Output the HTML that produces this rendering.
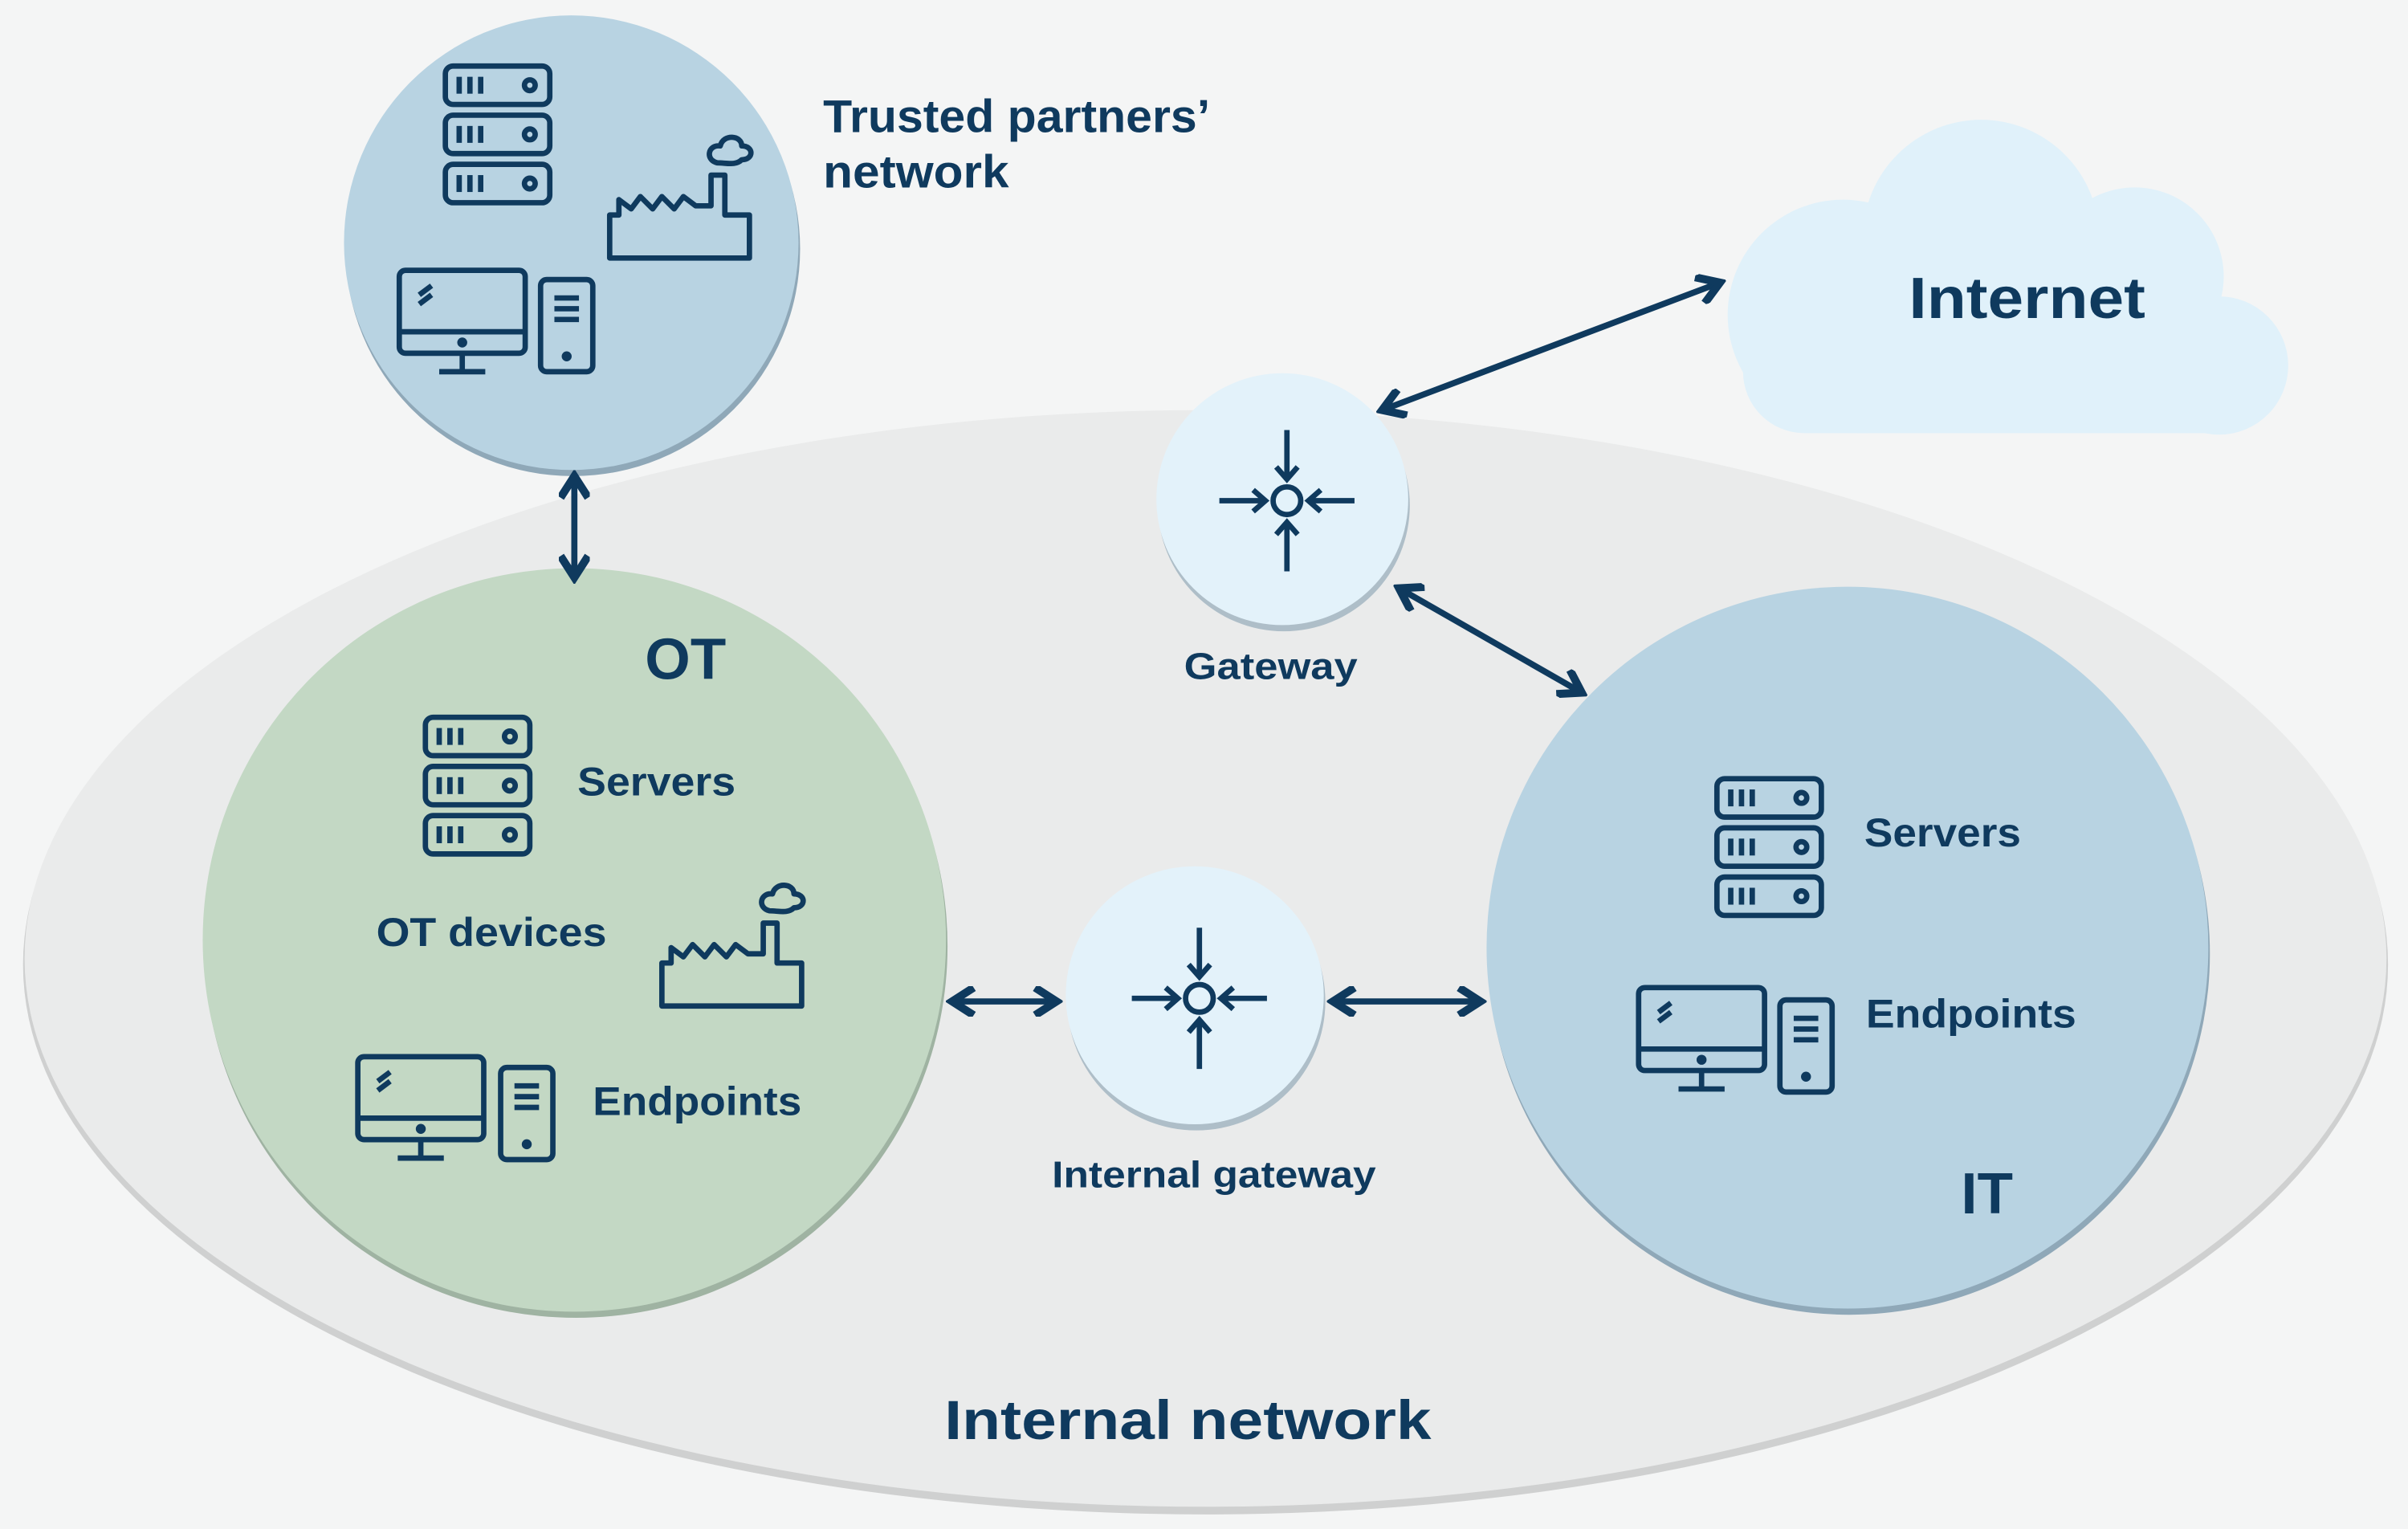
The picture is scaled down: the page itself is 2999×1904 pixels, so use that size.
<!DOCTYPE html>
<html><head><meta charset="utf-8"><style>
html,body{margin:0;padding:0;background:#f4f5f5;}
svg{display:block}
text{font-family:"Liberation Sans",sans-serif;font-weight:bold;fill:#0f3a5e}
</style></head><body>
<svg width="2999" height="1904" viewBox="0 0 1568 995.5" preserveAspectRatio="none" xmlns="http://www.w3.org/2000/svg">
<defs>
<g id="srv" fill="none" stroke="#0f3a5e" stroke-width="3.5">
<rect x="0" y="0" width="68" height="25" rx="5"/>
<line x1="9" y1="7" x2="9" y2="18"/><line x1="16" y1="7" x2="16" y2="18"/><line x1="23" y1="7" x2="23" y2="18"/>
<circle cx="55" cy="12.5" r="3.5"/>
</g>
<g id="stack"><use href="#srv"/><use href="#srv" y="32"/><use href="#srv" y="64"/></g>
<g id="mon" fill="none" stroke="#0f3a5e" stroke-width="3.5">
<rect x="0" y="0" width="82" height="54" rx="4"/>
<line x1="0" y1="40" x2="82" y2="40"/>
<line x1="41" y1="54" x2="41" y2="65"/><line x1="26" y1="66" x2="56" y2="66"/>
<line x1="13" y1="16" x2="21" y2="10"/><line x1="13" y1="22" x2="21" y2="16"/>
<circle cx="41" cy="47" r="1.5" fill="#0f3a5e"/>
</g>
<g id="tower" fill="none" stroke="#0f3a5e" stroke-width="3.5">
<rect x="0" y="0" width="34" height="60" rx="4"/>
<line x1="9" y1="12" x2="25" y2="12"/><line x1="9" y1="19" x2="25" y2="19"/><line x1="9" y1="26" x2="25" y2="26"/>
<circle cx="17" cy="50" r="1.5" fill="#0f3a5e"/>
</g>
<g id="fac" fill="none" stroke="#0f3a5e" stroke-width="3.5" stroke-linejoin="round">
<path d="M0,84 L0,56 L6,56 L6,46 L14,52 L20,44 L28,52 L34,44 L42,52 L48,44 L56,50 L66,50 L66,30 L75,30 L75,56 L91,56 L91,84 Z"/>
<path d="M70,22 C62,20 64,10 72,11 C74,3 86,4 86,11 C94,11 94,20 86,20 C82,24 76,22 70,22 Z"/>
</g>
<g id="gw" fill="none" stroke="#0f3a5e" stroke-width="3.5">
<circle cx="0" cy="0" r="9"/>
<line x1="0" y1="-46" x2="0" y2="-14"/><polyline points="-7,-22 0,-14 7,-22"/>
<line x1="0" y1="46" x2="0" y2="14"/><polyline points="-7,22 0,14 7,22"/>
<line x1="-44" y1="0" x2="-14" y2="0"/><polyline points="-22,-7 -14,0 -22,7"/>
<line x1="44" y1="0" x2="14" y2="0"/><polyline points="22,-7 14,0 22,7"/>
</g>
<marker id="ah" viewBox="0 0 10 10" refX="8" refY="5" markerWidth="5" markerHeight="5" orient="auto-start-reverse">
<polyline points="1,0.5 8,5 1,9.5" fill="none" stroke="#0f3a5e" stroke-width="2.6"/>
</marker>
</defs>
<rect width="1568" height="995.5" fill="#f4f5f5"/>
<ellipse cx="785" cy="628" rx="770" ry="358" fill="#cfd0d0"/>
<ellipse cx="785" cy="624" rx="769" ry="357" fill="#eaebeb"/>
<g fill="#e0f1fa">
<circle cx="1290" cy="155" r="77"/>
<circle cx="1390" cy="180" r="58"/>
<circle cx="1200" cy="205" r="75"/>
<circle cx="1445" cy="238" r="45"/>
<rect x="1200" y="190" width="245" height="92" rx="10"/>
<rect x="1135" y="200" width="120" height="82" rx="40"/>
</g>
<circle cx="373" cy="162" r="148" fill="#8fa8b8"/>
<circle cx="372" cy="158" r="148" fill="#b8d3e2"/>
<circle cx="375" cy="616" r="242" fill="#9fb3a2"/>
<circle cx="374" cy="612" r="242" fill="#c3d8c4"/>
<circle cx="1204" cy="621" r="235" fill="#8fa8b8"/>
<circle cx="1203" cy="617" r="235" fill="#b8d3e2"/>
<circle cx="836" cy="329" r="82" fill="#aebec8"/>
<circle cx="835" cy="325" r="82" fill="#e3f2fa"/>
<circle cx="779" cy="652" r="84" fill="#aebec8"/>
<circle cx="778" cy="648" r="84" fill="#e3f2fa"/>
<use href="#stack" x="290" y="43"/>
<use href="#fac" x="397" y="84"/>
<use href="#mon" x="260" y="176"/>
<use href="#tower" x="352" y="182"/>
<use href="#stack" x="277" y="467"/>
<use href="#fac" x="431" y="571"/>
<use href="#mon" x="233" y="688"/>
<use href="#tower" x="326" y="695"/>
<use href="#stack" x="1118" y="507"/>
<use href="#mon" x="1067" y="643"/>
<use href="#tower" x="1159" y="651"/>
<use href="#gw" x="838" y="326"/>
<use href="#gw" x="781" y="650"/>
<g stroke="#0f3a5e" stroke-width="4" marker-start="url(#ah)" marker-end="url(#ah)">
<line x1="374" y1="310" x2="374" y2="376"/>
<line x1="900" y1="267" x2="1120" y2="184"/>
<line x1="911" y1="383" x2="1030" y2="451"/>
<line x1="620" y1="652" x2="688" y2="652"/>
<line x1="868" y1="652" x2="964" y2="652"/>
</g>
<g lengthAdjust="spacingAndGlyphs">
<text x="536" y="86" font-size="30" textLength="252" lengthAdjust="spacingAndGlyphs">Trusted partners’</text>
<text x="536" y="122" font-size="30" textLength="121" lengthAdjust="spacingAndGlyphs">network</text>
<text x="1243" y="207" font-size="38" textLength="154" lengthAdjust="spacingAndGlyphs">Internet</text>
<text x="420" y="442" font-size="38">OT</text>
<text x="376" y="518" font-size="26" textLength="103" lengthAdjust="spacingAndGlyphs">Servers</text>
<text x="245" y="616" font-size="26" textLength="150" lengthAdjust="spacingAndGlyphs">OT devices</text>
<text x="386" y="726" font-size="26" textLength="136" lengthAdjust="spacingAndGlyphs">Endpoints</text>
<text x="771" y="442" font-size="24" textLength="113" lengthAdjust="spacingAndGlyphs">Gateway</text>
<text x="685" y="773" font-size="24" textLength="211" lengthAdjust="spacingAndGlyphs">Internal gateway</text>
<text x="1214" y="551" font-size="26" textLength="102" lengthAdjust="spacingAndGlyphs">Servers</text>
<text x="1215" y="669" font-size="26" textLength="137" lengthAdjust="spacingAndGlyphs">Endpoints</text>
<text x="1277" y="790" font-size="38">IT</text>
<text x="615" y="937" font-size="36" textLength="317" lengthAdjust="spacingAndGlyphs">Internal network</text>
</g>
</svg>
</body></html>
